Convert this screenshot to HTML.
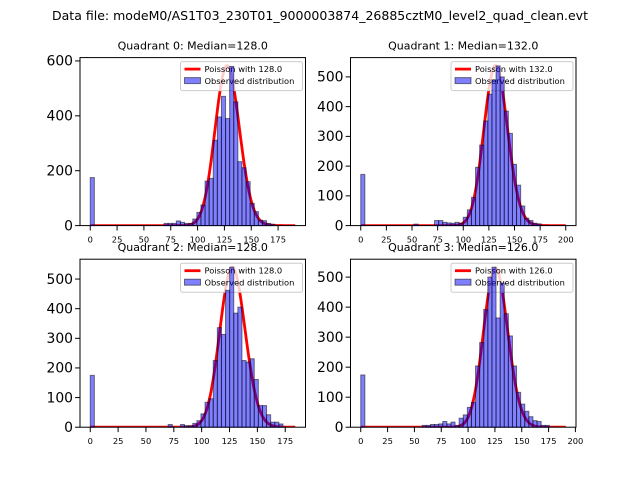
<!DOCTYPE html>
<html><head><meta charset="utf-8"><style>body{margin:0;background:#fff}svg{display:block}text{font-family:"DejaVu Sans","Liberation Sans",sans-serif}</style></head>
<body>
<svg id="fig" width="640" height="480" viewBox="0 0 640 480" xmlns="http://www.w3.org/2000/svg">
<rect width="640" height="480" fill="#fff"/>
<text x="320" y="20" font-size="12.5" text-anchor="middle" textLength="536" lengthAdjust="spacingAndGlyphs">Data file: modeM0/AS1T03_230T01_9000003874_26885cztM0_level2_quad_clean.evt</text>
</svg>
<script>
const quadNames = ["Quadrant 0", "Quadrant 1", "Quadrant 2", "Quadrant 3"];
const medians = [128.0, 132.0, 128.0, 126.0];
const dataMax = [191, 200, 184, 191];
const curveAmp = [583, 538, 540, 530];
const yTicks0 = [0, 200, 400, 600];
const yTicks1 = [0, 100, 200, 300, 400, 500];
const yTicks2 = [0, 100, 200, 300, 400, 500];
const yTicks3 = [0, 100, 200, 300, 400, 500];
const xTicks0 = [0, 25, 50, 75, 100, 125, 150, 175];
const xTicks1 = [0, 25, 50, 75, 100, 125, 150, 175, 200];
const xTicks2 = [0, 25, 50, 75, 100, 125, 150, 175];
const xTicks3 = [0, 25, 50, 75, 100, 125, 150, 175, 200];
const counts0 = [175,0,0,0,0,0,0,0,0,0,0,0,0,0,0,0,0,0,8,8,8,17,12,8,8,24,48,75,162,172,311,396,471,390,580,451,233,211,160,81,51,20,18,8,5,0,0,0,0,0];
const counts1 = [172,0,0,0,0,0,0,0,0,0,0,0,0,5,0,0,0,0,17,17,11,9,8,11,8,28,53,95,196,271,352,442,490,537,500,385,310,206,136,66,25,17,8,6,0,0,0,0,0,0];
const counts2 = [175,0,0,0,0,0,0,0,0,0,0,0,0,0,0,0,0,0,0,9,0,0,9,5,5,13,22,45,84,96,225,336,313,462,540,385,405,225,220,231,161,73,73,42,17,17,11,0,0,0];
const counts3 = [174,0,0,0,0,0,0,0,0,0,0,0,0,0,0,6,6,9,9,11,19,11,17,6,30,41,66,83,204,282,392,500,533,364,480,378,304,204,116,77,53,35,22,19,6,6,0,0,0,0];

const allCounts = [counts0, counts1, counts2, counts3];
const allYT = [yTicks0, yTicks1, yTicks2, yTicks3];
const allXT = [xTicks0, xTicks1, xTicks2, xTicks3];
const boxes = [[80,57.6],[350.5,57.6],[80,259.2],[350.5,259.2]];
const W = 225.5, H = 168, NS = "http://www.w3.org/2000/svg";
const svg = document.getElementById("fig");
function mk(tag, attrs, parent){const e=document.createElementNS(NS,tag);for(const k in attrs)e.setAttribute(k,attrs[k]);(parent||svg).appendChild(e);return e;}

for (let q = 0; q < 4; q++) {
  const [x0, y0] = boxes[q];
  const cnt = allCounts[q], xmax = dataMax[q], bw = xmax / cnt.length;
  const ymax = Math.max(Math.max(...cnt), curveAmp[q]) * 1.05;
  const xs = v => x0 + (v + 0.05 * xmax) / (1.1 * xmax) * W;
  const ys = v => y0 + H - v / ymax * H;
  const g = mk("g", {});
  
  
  const clipId = "c" + q;
  const cp = mk("clipPath", {id: clipId}, g);
  mk("rect", {x: x0, y: y0, width: W, height: H}, cp);
  const bars = mk("g", {"clip-path": "url(#" + clipId + ")"}, g);
  
  
  cnt.forEach((c, i) => {
    if (c <= 0) return;
    const r = mk("rect", {x: xs(i * bw), y: ys(c), width: xs((i + 1) * bw) - xs(i * bw), height: ys(0) - ys(c), fill: "rgba(0,0,255,0.5)", stroke: "rgba(0,0,0,0.5)", "stroke-width": 1});
    
    
  });
  // Poisson curve
  const mu = medians[q];
  let lnf = 0, pts = [], lnPeak = null;
  const lp = [];
  for (let k = 0; k <= Math.floor(xmax); k++) { if (k > 0) lnf += Math.log(k); lp.push(k * Math.log(mu) - mu - lnf); }
  const mx = Math.max(...lp);
  lp.forEach((v, k) => pts.push(xs(k).toFixed(2) + "," + ys(curveAmp[q] * Math.exp(v - mx)).toFixed(2)));
  const pl = mk("polyline", {points: pts.join(" "), fill: "none", stroke: "#ff0000", "stroke-width": 2.8, "stroke-linejoin": "round"}, bars);
  
  
  // frame
  const fr = mk("rect", {x: x0, y: y0, width: W, height: H, fill: "none", stroke: "#000", "stroke-width": 1}, g);
  
  
  // y ticks
  allYT[q].forEach(v => {
    const y = ys(v);
    const t = mk("line", {x1: x0 - 4.9, x2: x0, y1: y, y2: y, stroke: "#000", "stroke-width": 1}, g);
    
    
    const l = mk("text", {x: x0 - 7, y: y + 4.8, "font-size": 13.9, "text-anchor": "end"}, g);
    l.textContent = v;
    
    
  });
  allXT[q].forEach(v => {
    const x = xs(v);
    const t = mk("line", {x1: x, x2: x, y1: y0 + H, y2: y0 + H + 4.9, stroke: "#000", "stroke-width": 1}, g);
    
    
    const l = mk("text", {x: x, y: y0 + H + 17, "font-size": 8.3, "text-anchor": "middle"}, g);
    l.textContent = v;
    
    
  });
  const tt = mk("text", {x: x0 + W / 2, y: y0 - 8, "font-size": 11, "text-anchor": "middle"}, g);
  tt.textContent = quadNames[q] + ": Median=" + medians[q].toFixed(1);
  
  
  // legend
  const lg = mk("g", {}, g);
  
  
  const lx = x0 + W - 125, ly = y0 + 4;
  mk("rect", {x: lx, y: ly, width: 122, height: 29, rx: 2, fill: "rgba(255,255,255,0.8)", stroke: "#ccc", "stroke-width": 1}, lg);
  const e1 = mk("line", {x1: lx + 4, x2: lx + 20, y1: ly + 7.5, y2: ly + 7.5, stroke: "#ff0000", "stroke-width": 2.8}, lg);
  
  
  const t1 = mk("text", {x: lx + 24, y: ly + 10.5, "font-size": 8.3}, lg);
  t1.textContent = "Poisson with " + medians[q].toFixed(1);
  
  
  const e2 = mk("rect", {x: lx + 4, y: ly + 16, width: 16, height: 6, fill: "rgba(0,0,255,0.5)", stroke: "rgba(0,0,0,0.5)", "stroke-width": 1}, lg);
  
  
  const t2 = mk("text", {x: lx + 24, y: ly + 22.5, "font-size": 8.3}, lg);
  t2.textContent = "Observed distribution";
  
  
}
</script>
</body></html>
